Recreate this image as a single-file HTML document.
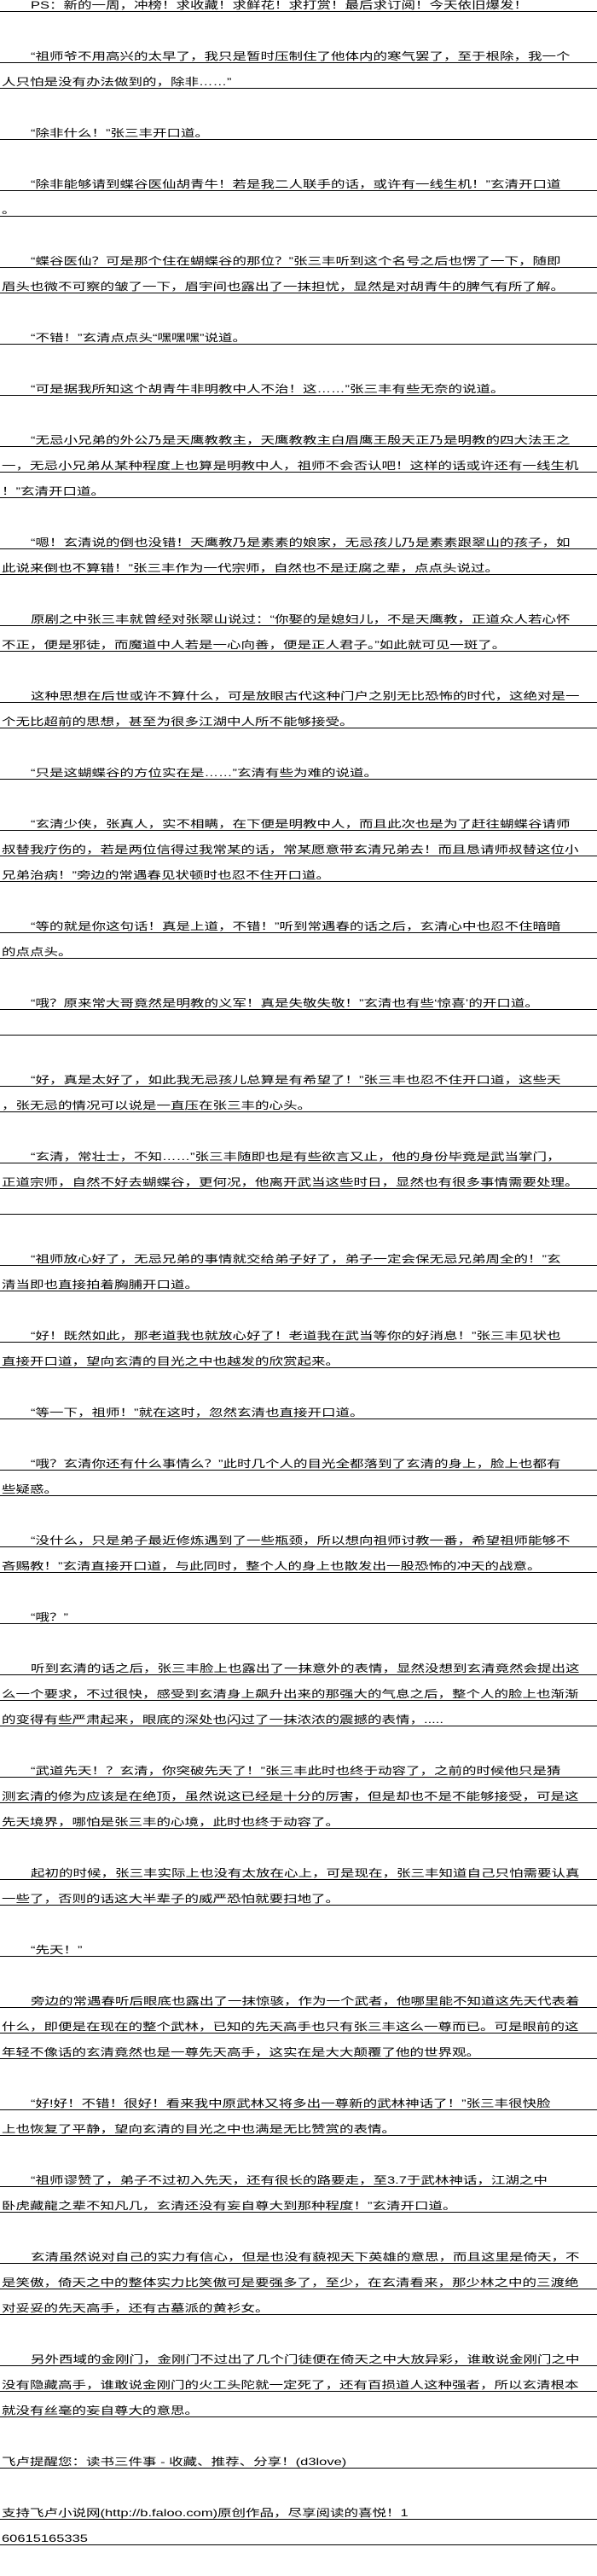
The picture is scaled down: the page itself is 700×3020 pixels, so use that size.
<!DOCTYPE html>
<html><head><meta charset="utf-8">
<style>
html,body{margin:0;padding:0;background:#fff;}
body{width:700px;height:3020px;position:relative;overflow:hidden;font-family:"Liberation Sans","Noto Sans CJK SC",sans-serif;color:#000;}
.r{position:absolute;left:0;width:700px;height:30px;border-bottom:1px solid #000;box-sizing:border-box;}
.r span{position:absolute;bottom:0px;left:2px;font-size:12px;line-height:13px;white-space:nowrap;transform:scaleX(1.375);transform-origin:left bottom;}
.r span.i{left:36px;}
</style></head><body>
<div class="r" style="top:-16px"><span class="i">PS：新的一周，冲榜！求收藏！求鲜花！求打赏！最后求订阅！今天依旧爆发！</span></div>
<div class="r" style="top:44px"><span class="i">“祖师爷不用高兴的太早了，我只是暂时压制住了他体内的寒气罢了，至于根除，我一个</span></div>
<div class="r" style="top:74px"><span>人只怕是没有办法做到的，除非……”</span></div>
<div class="r" style="top:134px"><span class="i">“除非什么！”张三丰开口道。</span></div>
<div class="r" style="top:194px"><span class="i">“除非能够请到蝶谷医仙胡青牛！若是我二人联手的话，或许有一线生机！”玄清开口道</span></div>
<div class="r" style="top:224px"><span>。</span></div>
<div class="r" style="top:284px"><span class="i">“蝶谷医仙？可是那个住在蝴蝶谷的那位？”张三丰听到这个名号之后也愣了一下，随即</span></div>
<div class="r" style="top:314px"><span>眉头也微不可察的皱了一下，眉宇间也露出了一抹担忧，显然是对胡青牛的脾气有所了解。</span></div>
<div class="r" style="top:374px"><span class="i">“不错！”玄清点点头“嘿嘿嘿”说道。</span></div>
<div class="r" style="top:434px"><span class="i">“可是据我所知这个胡青牛非明教中人不治！这……”张三丰有些无奈的说道。</span></div>
<div class="r" style="top:494px"><span class="i">“无忌小兄弟的外公乃是天鹰教教主，天鹰教教主白眉鹰王殷天正乃是明教的四大法王之</span></div>
<div class="r" style="top:524px"><span>一，无忌小兄弟从某种程度上也算是明教中人，祖师不会否认吧！这样的话或许还有一线生机</span></div>
<div class="r" style="top:554px"><span>！”玄清开口道。</span></div>
<div class="r" style="top:614px"><span class="i">“嗯！玄清说的倒也没错！天鹰教乃是素素的娘家，无忌孩儿乃是素素跟翠山的孩子，如</span></div>
<div class="r" style="top:644px"><span>此说来倒也不算错！”张三丰作为一代宗师，自然也不是迂腐之辈，点点头说过。</span></div>
<div class="r" style="top:704px"><span class="i">原剧之中张三丰就曾经对张翠山说过：“你娶的是媳妇儿，不是天鹰教，正道众人若心怀</span></div>
<div class="r" style="top:734px"><span>不正，便是邪徒，而魔道中人若是一心向善，便是正人君子。”如此就可见一斑了。</span></div>
<div class="r" style="top:794px"><span class="i">这种思想在后世或许不算什么，可是放眼古代这种门户之别无比恐怖的时代，这绝对是一</span></div>
<div class="r" style="top:824px"><span>个无比超前的思想，甚至为很多江湖中人所不能够接受。</span></div>
<div class="r" style="top:884px"><span class="i">“只是这蝴蝶谷的方位实在是……”玄清有些为难的说道。</span></div>
<div class="r" style="top:944px"><span class="i">“玄清少侠，张真人，实不相瞒，在下便是明教中人，而且此次也是为了赶往蝴蝶谷请师</span></div>
<div class="r" style="top:974px"><span>叔替我疗伤的，若是两位信得过我常某的话，常某愿意带玄清兄弟去！而且恳请师叔替这位小</span></div>
<div class="r" style="top:1004px"><span>兄弟治病！”旁边的常遇春见状顿时也忍不住开口道。</span></div>
<div class="r" style="top:1064px"><span class="i">“等的就是你这句话！真是上道，不错！”听到常遇春的话之后，玄清心中也忍不住暗暗</span></div>
<div class="r" style="top:1094px"><span>的点点头。</span></div>
<div class="r" style="top:1154px"><span class="i">“哦？原来常大哥竟然是明教的义军！真是失敬失敬！”玄清也有些‘惊喜’的开口道。</span></div>
<div class="r" style="top:1184px"><span></span></div>
<div class="r" style="top:1244px"><span class="i">“好，真是太好了，如此我无忌孩儿总算是有希望了！”张三丰也忍不住开口道，这些天</span></div>
<div class="r" style="top:1274px"><span>，张无忌的情况可以说是一直压在张三丰的心头。</span></div>
<div class="r" style="top:1334px"><span class="i">“玄清，常壮士，不知……”张三丰随即也是有些欲言又止，他的身份毕竟是武当掌门，</span></div>
<div class="r" style="top:1364px"><span>正道宗师，自然不好去蝴蝶谷，更何况，他离开武当这些时日，显然也有很多事情需要处理。</span></div>
<div class="r" style="top:1394px"><span></span></div>
<div class="r" style="top:1454px"><span class="i">“祖师放心好了，无忌兄弟的事情就交给弟子好了，弟子一定会保无忌兄弟周全的！”玄</span></div>
<div class="r" style="top:1484px"><span>清当即也直接拍着胸脯开口道。</span></div>
<div class="r" style="top:1544px"><span class="i">“好！既然如此，那老道我也就放心好了！老道我在武当等你的好消息！”张三丰见状也</span></div>
<div class="r" style="top:1574px"><span>直接开口道，望向玄清的目光之中也越发的欣赏起来。</span></div>
<div class="r" style="top:1634px"><span class="i">“等一下，祖师！”就在这时，忽然玄清也直接开口道。</span></div>
<div class="r" style="top:1694px"><span class="i">“哦？玄清你还有什么事情么？”此时几个人的目光全都落到了玄清的身上，脸上也都有</span></div>
<div class="r" style="top:1724px"><span>些疑惑。</span></div>
<div class="r" style="top:1784px"><span class="i">“没什么，只是弟子最近修炼遇到了一些瓶颈，所以想向祖师讨教一番，希望祖师能够不</span></div>
<div class="r" style="top:1814px"><span>吝赐教！”玄清直接开口道，与此同时，整个人的身上也散发出一股恐怖的冲天的战意。</span></div>
<div class="r" style="top:1874px"><span class="i">“哦？”</span></div>
<div class="r" style="top:1934px"><span class="i">听到玄清的话之后，张三丰脸上也露出了一抹意外的表情，显然没想到玄清竟然会提出这</span></div>
<div class="r" style="top:1964px"><span>么一个要求，不过很快，感受到玄清身上飙升出来的那强大的气息之后，整个人的脸上也渐渐</span></div>
<div class="r" style="top:1994px"><span>的变得有些严肃起来，眼底的深处也闪过了一抹浓浓的震撼的表情，.....</span></div>
<div class="r" style="top:2054px"><span class="i">“武道先天！？玄清，你突破先天了！”张三丰此时也终于动容了，之前的时候他只是猜</span></div>
<div class="r" style="top:2084px"><span>测玄清的修为应该是在绝顶，虽然说这已经是十分的厉害，但是却也不是不能够接受，可是这</span></div>
<div class="r" style="top:2114px"><span>先天境界，哪怕是张三丰的心境，此时也终于动容了。</span></div>
<div class="r" style="top:2174px"><span class="i">起初的时候，张三丰实际上也没有太放在心上，可是现在，张三丰知道自己只怕需要认真</span></div>
<div class="r" style="top:2204px"><span>一些了，否则的话这大半辈子的威严恐怕就要扫地了。</span></div>
<div class="r" style="top:2264px"><span class="i">“先天！”</span></div>
<div class="r" style="top:2324px"><span class="i">旁边的常遇春听后眼底也露出了一抹惊骇，作为一个武者，他哪里能不知道这先天代表着</span></div>
<div class="r" style="top:2354px"><span>什么，即便是在现在的整个武林，已知的先天高手也只有张三丰这么一尊而已。可是眼前的这</span></div>
<div class="r" style="top:2384px"><span>年轻不像话的玄清竟然也是一尊先天高手，这实在是大大颠覆了他的世界观。</span></div>
<div class="r" style="top:2444px"><span class="i">“好!好！不错！很好！看来我中原武林又将多出一尊新的武林神话了！”张三丰很快脸</span></div>
<div class="r" style="top:2474px"><span>上也恢复了平静，望向玄清的目光之中也满是无比赞赏的表情。</span></div>
<div class="r" style="top:2534px"><span class="i">“祖师谬赞了，弟子不过初入先天，还有很长的路要走，至3.7于武林神话，江湖之中</span></div>
<div class="r" style="top:2564px"><span>卧虎藏龍之辈不知凡几，玄清还没有妄自尊大到那种程度！”玄清开口道。</span></div>
<div class="r" style="top:2624px"><span class="i">玄清虽然说对自己的实力有信心，但是也没有藐视天下英雄的意思，而且这里是倚天，不</span></div>
<div class="r" style="top:2654px"><span>是笑傲，倚天之中的整体实力比笑傲可是要强多了，至少，在玄清看来，那少林之中的三渡绝</span></div>
<div class="r" style="top:2684px"><span>对妥妥的先天高手，还有古墓派的黄衫女。</span></div>
<div class="r" style="top:2744px"><span class="i">另外西域的金刚门，金刚门不过出了几个门徒便在倚天之中大放异彩，谁敢说金刚门之中</span></div>
<div class="r" style="top:2774px"><span>没有隐藏高手，谁敢说金刚门的火工头陀就一定死了，还有百损道人这种强者，所以玄清根本</span></div>
<div class="r" style="top:2804px"><span>就没有丝毫的妄自尊大的意思。</span></div>
<div class="r" style="top:2864px"><span>飞卢提醒您：读书三件事 - 收藏、推荐、分享！(d3love)</span></div>
<div class="r" style="top:2924px"><span>支持飞卢小说网(http://b.faloo.com)原创作品，尽享阅读的喜悦！1</span></div>
<div class="r" style="top:2954px"><span>60615165335</span></div>
</body></html>
